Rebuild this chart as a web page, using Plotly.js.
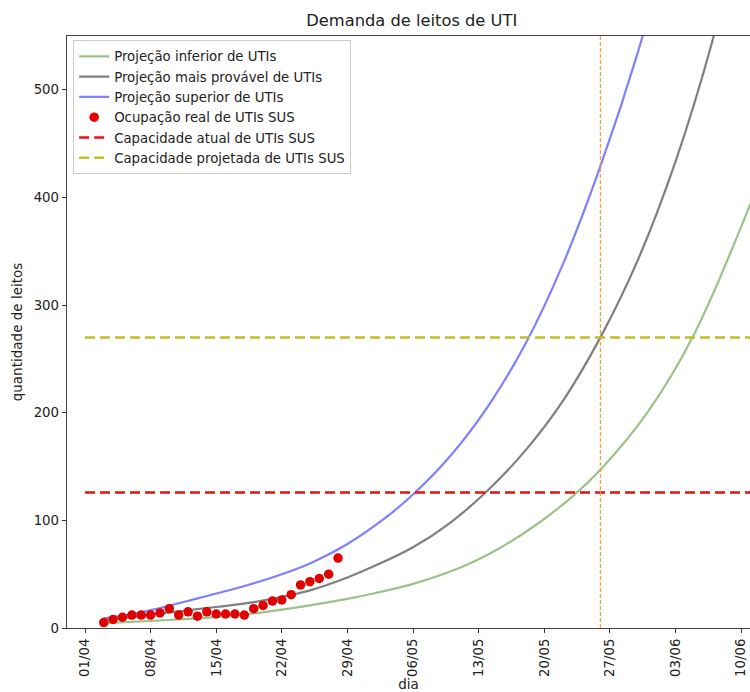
<!DOCTYPE html>
<html>
<head>
<meta charset="utf-8">
<script src="https://cdn.plot.ly/plotly-3.0.1.min.js"></script>
<style>html,body{margin:0;padding:0;background:#fff;}#chart{width:750px;height:692px;}</style>
</head>
<body>
<div id="chart"></div>
<script>
// ---- Data ----
const lowerDates = ['2020-04-03','2020-04-08','2020-04-12','2020-04-15','2020-04-19','2020-04-22','2020-04-25','2020-04-29','2020-05-02','2020-05-06','2020-05-11','2020-05-15','2020-05-19','2020-05-23','2020-05-26','2020-05-31','2020-06-05','2020-06-11'];
const lowerValues = [4.5,6.5,8.5,10.3,13.5,17,21,27,32.5,41,56,73,95,122,147,200,273,394];

const likelyDates = ['2020-04-03','2020-04-06','2020-04-09','2020-04-12','2020-04-15','2020-04-19','2020-04-22','2020-04-25','2020-04-29','2020-05-02','2020-05-06','2020-05-10','2020-05-14','2020-05-18','2020-05-22','2020-05-26','2020-05-30','2020-06-03','2020-06-07','2020-06-11'];
const likelyValues = [7.5,10,13.5,16.5,19.5,24,29,35,47,58,75,98,128,165,211,270,342,433,547,690];

const upperDates = ['2020-04-03','2020-04-06','2020-04-09','2020-04-11','2020-04-15','2020-04-18','2020-04-22','2020-04-25','2020-04-29','2020-05-03','2020-05-06','2020-05-10','2020-05-14','2020-05-18','2020-05-22','2020-05-26','2020-05-30','2020-06-02'];
const upperValues = [9,13,18.5,23,32,39,50,60,78,102,124,160,206,264,338,429,535,630];

const realDates = ['2020-04-03','2020-04-04','2020-04-05','2020-04-06','2020-04-07','2020-04-08','2020-04-09','2020-04-10','2020-04-11','2020-04-12','2020-04-13','2020-04-14','2020-04-15','2020-04-16','2020-04-17','2020-04-18','2020-04-19','2020-04-20','2020-04-21','2020-04-22','2020-04-23','2020-04-24','2020-04-25','2020-04-26','2020-04-27','2020-04-28'];
const realValues = [5,8,10,12,12,12,14,18,12,15,11,15,13,13,13,12,18,21,25,26,31,40,43,46,50,65];

const capacityCurrent = 126;
const capacityProjected = 270;
const capacitySpan = ['2020-04-01','2020-06-15'];
const crossingDate = '2020-05-26';

const tickDates = ['2020-04-01','2020-04-08','2020-04-15','2020-04-22','2020-04-29','2020-05-06','2020-05-13','2020-05-20','2020-05-27','2020-06-03','2020-06-10'];
const tickLabels = ['01/04','08/04','15/04','22/04','29/04','06/05','13/05','20/05','27/05','03/06','10/06'];
const yTicks = [0,100,200,300,400,500];

// ---- Traces ----
const font = 'DejaVu Sans, sans-serif';
const traces = [
  {x: lowerDates, y: lowerValues, mode: 'lines', name: 'Projeção inferior de UTIs',
   line: {color: '#9cc28a', width: 2.2, shape: 'spline'}},
  {x: likelyDates, y: likelyValues, mode: 'lines', name: 'Projeção mais provável de UTIs',
   line: {color: '#7f7f7f', width: 2.2, shape: 'spline'}},
  {x: upperDates, y: upperValues, mode: 'lines', name: 'Projeção superior de UTIs',
   line: {color: '#8080ff', width: 2.2, shape: 'spline'}},
  {x: realDates, y: realValues, mode: 'markers', name: 'Ocupação real de UTIs SUS',
   marker: {color: '#e00000', size: 9.5}},
  {x: capacitySpan, y: [capacityCurrent, capacityCurrent], mode: 'lines', name: 'Capacidade atual de UTIs SUS',
   line: {color: '#e81010', width: 2.5, dash: '10px,5px'}},
  {x: capacitySpan, y: [capacityProjected, capacityProjected], mode: 'lines', name: 'Capacidade projetada de UTIs SUS',
   line: {color: '#bfbf2a', width: 2.5, dash: '10px,5px'}}
];

const layout = {
  width: 750, height: 692,
  margin: {l: 67, r: 0, t: 36, b: 64},
  paper_bgcolor: '#fff', plot_bgcolor: '#fff',
  font: {family: font, size: 13.5, color: '#222'},
  title: {text: 'Demanda de leitos de UTI', font: {family: font, size: 16.3, color: '#222'},
          x: 0.549, xref: 'container', xanchor: 'center', y: 0.971, yref: 'container', yanchor: 'middle'},
  showlegend: true,
  legend: {x: 0.009, y: 0.993, xanchor: 'left', yanchor: 'top', bgcolor: 'rgba(255,255,255,0.85)',
           bordercolor: '#cccccc', borderwidth: 1, font: {family: font, size: 13.3, color: '#222'},
           itemwidth: 30, tracegroupgap: 0},
  xaxis: {type: 'date', range: ['2020-03-30 01:54', '2020-06-10 23:03'],
          tickvals: tickDates, ticktext: tickLabels, tickangle: -90,
          ticks: 'outside', ticklen: 4, tickcolor: '#333', tickfont: {size: 13.3, color: '#222'},
          showgrid: false, zeroline: false, showline: true, linecolor: '#444', linewidth: 1.3, mirror: true,
          title: {text: 'dia', font: {size: 13.5, color: '#222'}, standoff: 9}, automargin: false},
  yaxis: {range: [0, 550], tickvals: yTicks, ticks: 'outside', ticklen: 4, tickcolor: '#333',
          tickfont: {size: 13.3, color: '#222'}, showgrid: false, zeroline: false,
          showline: true, linecolor: '#444', linewidth: 1.3, mirror: false,
          title: {text: 'quantidade de leitos', font: {size: 13.5, color: '#222'}, standoff: 8}, automargin: false},
  shapes: [{type: 'line', xref: 'x', yref: 'paper', x0: crossingDate, x1: crossingDate, y0: 0, y1: 1,
            line: {color: 'rgba(245,150,50,0.9)', width: 1.3, dash: '4px,2px'}}]
};

Plotly.newPlot('chart', traces, layout, {displayModeBar: false, staticPlot: true});
</script>
</body>
</html>
